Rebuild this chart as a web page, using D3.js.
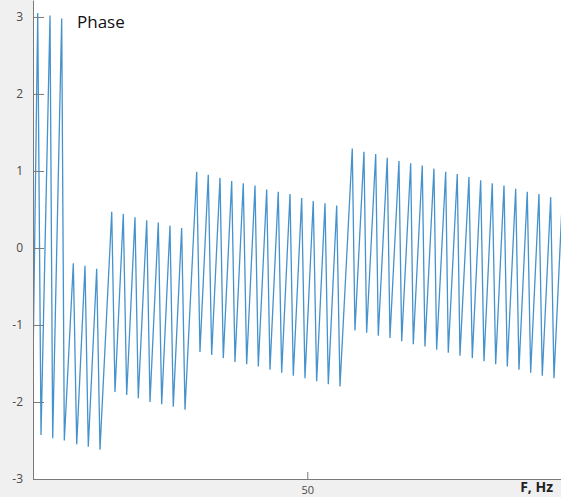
<!DOCTYPE html>
<html>
<head>
<meta charset="utf-8">
<script src="https://cdn.jsdelivr.net/npm/d3@7"></script>
<style>
  html, body { margin: 0; padding: 0; background: #f0f0f0; }
  svg { display: block; }
</style>
</head>
<body>
<svg id="chart" width="561" height="497"></svg>
<script>
// Phase spectrum vertices: frequency (Hz) and wrapped phase (rad)
const freqHz = [
  0, 0.86, 1.46, 3.10, 3.59, 5.23, 5.71, 7.35, 7.97, 9.48, 10.08, 11.61, 12.21,
  14.35, 14.95, 16.46, 17.08, 18.59, 19.19, 20.73, 21.33, 22.84, 23.46, 24.97, 25.57, 27.10, 27.71,
  29.84, 30.44, 31.95, 32.57, 34.09, 34.69, 36.22, 36.82, 38.33, 38.95, 40.47, 41.07, 42.60, 43.20,
  44.71, 45.33, 46.85, 47.45, 48.98, 49.58, 51.09, 51.71, 53.23, 53.83, 55.36, 55.96,
  58.20, 58.69, 60.33, 60.82, 62.47, 62.94, 64.58, 65.07, 66.71, 67.21, 68.85, 69.32, 70.96, 71.45,
  73.09, 73.58, 75.23, 75.70, 77.34, 77.83, 79.47, 80.08, 81.61, 82.21, 83.72, 84.34, 85.86, 86.46,
  87.99, 88.59, 90.10, 90.72, 92.23, 92.84, 94.37, 94.97, 96.48
];
const phase = [
  -1.55, 3.05, -2.43, 3.02, -2.47, 2.98, -2.50, -0.20, -2.55, -0.23, -2.58, -0.27, -2.62,
  0.47, -1.87, 0.44, -1.91, 0.40, -1.95, 0.36, -2.00, 0.33, -2.03, 0.29, -2.06, 0.26, -2.10,
  0.99, -1.35, 0.95, -1.39, 0.91, -1.43, 0.87, -1.48, 0.84, -1.51, 0.81, -1.54, 0.76, -1.58,
  0.73, -1.62, 0.70, -1.66, 0.65, -1.69, 0.61, -1.73, 0.58, -1.77, 0.55, -1.80,
  1.29, -1.07, 1.25, -1.10, 1.22, -1.14, 1.17, -1.17, 1.13, -1.21, 1.10, -1.25, 1.07, -1.28,
  1.03, -1.32, 0.99, -1.36, 0.96, -1.40, 0.92, -1.43, 0.88, -1.47, 0.84, -1.51, 0.81, -1.54,
  0.77, -1.58, 0.73, -1.62, 0.70, -1.66, 0.66, -1.69, 0.62
];
const yTicks = [-3, -2, -1, 0, 1, 2, 3];
const xTicks = [50];

const plot = { left: 33, top: 0, right: 561, bottom: 479 };

const svg = d3.select("#chart");

const x = d3.scaleLinear().domain([0, 96.25]).range([plot.left, plot.right]);
const y = d3.scaleLinear().domain([-3, 3.22]).range([plot.bottom, plot.top]);

// white plotting area
svg.append("rect")
  .attr("x", plot.left).attr("y", plot.top)
  .attr("width", plot.right - plot.left).attr("height", plot.bottom - plot.top)
  .attr("fill", "#ffffff");

svg.append("clipPath").attr("id", "plotClip")
  .append("rect")
  .attr("x", plot.left).attr("y", plot.top)
  .attr("width", plot.right - plot.left).attr("height", plot.bottom - plot.top);

const pts = freqHz.map((f, i) => [f, phase[i]]);
const line = d3.line().x(d => x(d[0])).y(d => y(d[1]));

svg.append("path")
  .datum(pts)
  .attr("clip-path", "url(#plotClip)")
  .attr("d", line)
  .attr("fill", "none")
  .attr("stroke", "#4592cc")
  .attr("stroke-width", 1.3)
  .attr("stroke-linejoin", "miter")
  .attr("stroke-miterlimit", 20);

const tickFont = "'Open Sans', 'Noto Sans', sans-serif";

// y axis with inward ticks
const yAxis = svg.append("g")
  .attr("transform", `translate(${plot.left},0)`)
  .call(d3.axisLeft(y).tickValues(yTicks).tickFormat(d => String(d))
    .tickSizeInner(-11).tickSizeOuter(0).tickPadding(10));
yAxis.select(".domain").attr("stroke", "#7a7a7a");
yAxis.selectAll(".tick line").attr("stroke", "#7a7a7a");
yAxis.selectAll(".tick text")
  .attr("fill", "#4a4a4a")
  .style("font-family", tickFont)
  .style("font-size", "12px");

// x axis with inward ticks
const xAxis = svg.append("g")
  .attr("transform", `translate(0,${plot.bottom})`)
  .call(d3.axisBottom(x).tickValues(xTicks).tickFormat(d => String(d))
    .tickSizeInner(-7).tickSizeOuter(0).tickPadding(7));
xAxis.select(".domain").attr("stroke", "#7a7a7a");
xAxis.selectAll(".tick line").attr("stroke", "#7a7a7a");
xAxis.selectAll(".tick text")
  .attr("fill", "#4a4a4a")
  .style("font-family", tickFont)
  .style("font-size", "11px");

// titles
svg.append("text")
  .attr("x", 77).attr("y", 28)
  .attr("fill", "#111")
  .style("font-family", tickFont)
  .style("font-size", "17px")
  .text("Phase");

svg.append("text")
  .attr("x", 553).attr("y", 492)
  .attr("text-anchor", "end")
  .attr("fill", "#222")
  .style("font-family", tickFont)
  .style("font-size", "14px")
  .style("font-weight", "bold")
  .text("F, Hz");
</script>
</body>
</html>
